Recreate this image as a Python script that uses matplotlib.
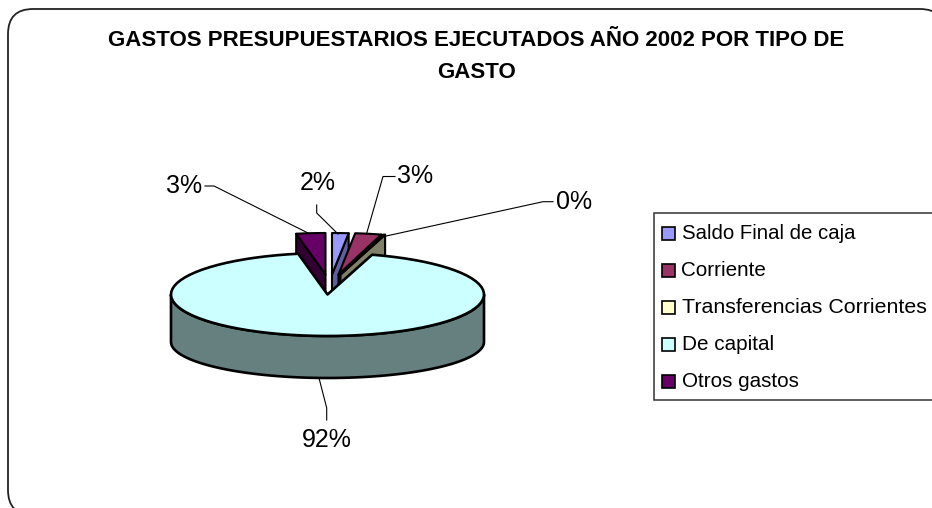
import numpy as np
import matplotlib
matplotlib.use("Agg")
import matplotlib.pyplot as plt
from matplotlib.patches import Polygon, FancyBboxPatch, Rectangle

plt.rcParams['font.family'] = ['Liberation Sans', 'DejaVu Sans']

title_lines = ["GASTOS PRESUPUESTARIOS EJECUTADOS AÑO 2002 POR TIPO DE", "GASTO"]
categories = ["Saldo Final de caja", "Corriente", "Transferencias Corrientes", "De capital", "Otros gastos"]
values = [1.7, 2.7, 0.2, 92.4, 3.0]
labels = ["2%", "3%", "0%", "92%", "3%"]
face_colors = ["#9999FF", "#993366", "#FFFFCC", "#CCFFFF", "#660066"]
wall_colors = ["#5F5FA0", "#4D1A33", "#808066", "#667F7F", "#330033"]

# layout (pixels)
CX, CY, RX, RY, DEPTH = 327.5, 294.5, 156.5, 41.5, 42
BOTTOM_CY, BOTTOM_RY = 342, 36
explode = [(4.5, -20), (11, -20), (13, -20), (0, 0), (-2, -20)]
EDGE = dict(edgecolor="black", linewidth=1.9, joinstyle="round")
EDGE_THIN = dict(edgecolor="black", linewidth=1.5, joinstyle="round")
legend_sizes = [14.7, 14.9, 15.4, 14.9, 14.9]

fig = plt.figure(figsize=(9.32, 5.08), dpi=100)
ax = fig.add_axes([0, 0, 1, 1])
ax.set_xlim(0, 932)
ax.set_ylim(508, 0)
ax.axis("off")

ax.add_patch(FancyBboxPatch((33, 34), 887, 456, boxstyle="round,pad=25,rounding_size=25",
                            facecolor="white", edgecolor="#222222", linewidth=1.3, clip_on=True))


def rim(t0, t1, ox=0, oy=0, n=80):
    th = np.radians(np.linspace(t0, t1, n))
    return np.column_stack([CX + ox + RX * np.sin(th), CY + oy - RY * np.cos(th)])


shares = np.array(values) / sum(values) * 360
starts = np.concatenate([[0], np.cumsum(shares)[:-1]])
geom = {i: (starts[i], starts[i] + shares[i]) for i in range(len(values))}

# Exploded small slices, back to front
for i in [4, 0, 1, 2]:
    t0, t1 = geom[i]
    ox, oy = explode[i]
    apex = np.array([CX + ox, CY + oy])
    # side wall on the edge turned towards the viewer
    edge_t = t0 if i == 4 else t1
    out = rim(edge_t, edge_t, ox, oy, 1)[0]
    wall = [apex, out, out + [0, DEPTH], apex + [0, DEPTH]]
    ax.add_patch(Polygon(wall, closed=True, facecolor=wall_colors[i], **EDGE_THIN))
    ax.add_patch(Polygon(np.vstack([apex, rim(t0, t1, ox, oy)]), closed=True,
                         facecolor=face_colors[i], **EDGE_THIN))

# Main slice
t0, t1 = geom[3]
front = rim(90, 270)
th = np.radians(np.linspace(90, 270, len(front)))
bottom = np.column_stack([CX + RX * np.sin(th), BOTTOM_CY - BOTTOM_RY * np.cos(th)])
side = np.vstack([front, bottom[::-1]])
ax.add_patch(Polygon(side, closed=True, facecolor=wall_colors[3], **EDGE))
ax.add_patch(Polygon(np.vstack([[CX, CY], rim(t0, t1)]), closed=True, facecolor=face_colors[3], **EDGE))

# Leader lines and data labels
leaders = {
    0: [(316.7, 205), (316.7, 213), (338, 234)],
    1: [(395, 176.5), (383, 176.5), (366.5, 234)],
    2: [(553, 201.7), (543, 201.7), (383, 236.7)],
    3: [(319, 378), (326.7, 408), (326.7, 420)],
    4: [(205, 186), (214, 186), (310, 234)],
}
label_pos = {0: (317.5, 190), 1: (415, 183), 2: (574.5, 209), 3: (327, 447), 4: (184, 193)}
for i, pts in leaders.items():
    xs, ys = zip(*pts)
    ax.plot(xs, ys, color="black", lw=0.8, solid_joinstyle="miter")
    ax.text(*label_pos[i], labels[i], fontsize=18, ha="center", va="baseline", color="black")

# Title
ax.text(476.5, 45.5, title_lines[0], fontsize=16, fontweight="bold", ha="center", va="baseline")
ax.text(477, 78, title_lines[1], fontsize=16, fontweight="bold", ha="center", va="baseline")

# Legend
ax.add_patch(Rectangle((654, 213), 300, 187, facecolor="white", edgecolor="#333333", linewidth=1.1))
for k, name in enumerate(categories):
    y = 232.5 + k * 37
    ax.add_patch(Rectangle((661.5, y - 6), 13, 13, facecolor=face_colors[k], edgecolor="black", linewidth=1.2))
    ax.text(681.5, y + 6.5, name, fontsize=legend_sizes[k], ha="left", va="baseline", color="black")

fig.savefig("out.png", dpi=100)
